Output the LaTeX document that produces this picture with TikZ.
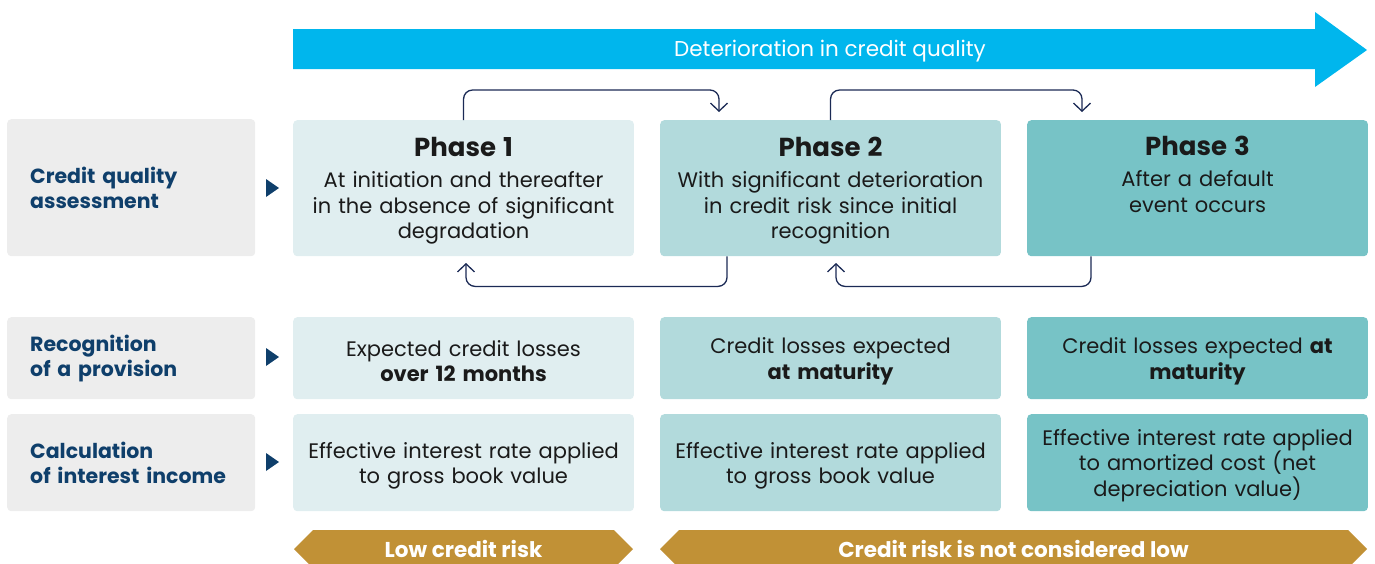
\documentclass[tikz,border=0pt]{standalone}
\usepackage{fontspec}
\setmainfont{Poppins}
\usetikzlibrary{arrows.meta,shapes.symbols}

\definecolor{skyblue}{HTML}{00B6ED}
\definecolor{headgray}{HTML}{EDEDED}
\definecolor{navy}{HTML}{0F3F6B}
\definecolor{loopnavy}{HTML}{1B2A55}
\definecolor{phaseA}{HTML}{E0EEF0}
\definecolor{phaseB}{HTML}{B2DADC}
\definecolor{phaseC}{HTML}{77C3C6}
\definecolor{gold}{HTML}{C19136}
\definecolor{ink}{HTML}{1A1A1A}

\newcommand{\phasetitle}[1]{{\rule{0pt}{24pt}\fontsize{26}{30}\selectfont\bfseries #1}\\[6pt]}

\tikzset{
  rowhead/.style={anchor=north west, fill=headgray, rounded corners=4pt,
    minimum width=248pt, inner xsep=23pt, text width=202pt, align=left,
    text=navy, font=\fontsize{20.5}{25}\selectfont\bfseries},
  phasebox/.style={anchor=north west, rounded corners=4pt, minimum width=340pt,
    text width=334pt, align=center, text=ink,
    font=\fontsize{21}{25.5}\selectfont,
    execute at begin node={\rule{0pt}{22pt}}},
  pointer/.style={fill=navy, draw=none},
  loopline/.style={draw=loopnavy, line width=1.3pt, rounded corners=9pt,
    -{Straight Barb[length=8pt,width=17pt,line width=1.3pt]}},
  riskband/.style={signal, signal to=west and east, signal pointer angle=90,
    fill=gold, text=white, minimum height=38pt, inner sep=0pt,
    font=\fontsize{21.5}{24}\selectfont\bfseries},
}

\begin{document}
\begin{tikzpicture}[x=1pt,y=-1pt]
\useasboundingbox (0,0) rectangle (1375,563);
\clip (0,0) rectangle (1375,563);

% deterioration arrow
\fill[skyblue] (293,29) -- (1315,29) -- (1315,12) -- (1367,50)
  -- (1315,87) -- (1315,69) -- (293,69) -- cycle;
\node[text=white, font=\fontsize{21.5}{24}\selectfont] (deter) at (830,51) {Deterioration in credit quality};

% row headers
\node[rowhead, minimum height=137pt] (hassess) at (7,119) {Credit quality\\assessment};
\node[rowhead, minimum height=82pt] (hprov) at (7,317) {Recognition\\of a provision};
\node[rowhead, minimum height=97pt] (hinc) at (7,414) {Calculation\\of interest income};

\foreach \yy in {188,357,462}
  \fill[pointer] (266,\yy-9) -- (279,\yy) -- (266,\yy+9) -- cycle;

% phases
\node[phasebox, fill=phaseA, minimum height=136pt] (p1) at (293,120)
  {\phasetitle{Phase 1}At initiation and thereafter\\in the absence of significant\\degradation};
\node[phasebox, fill=phaseB, minimum height=136pt] (p2) at (660,120)
  {\phasetitle{Phase 2}With significant deterioration\\in credit risk since initial\\recognition};
\node[phasebox, fill=phaseC, minimum height=136pt] (p3) at (1027,120)
  {\phasetitle{Phase 3}After a default\\event occurs\\\strut};

\node[phasebox, fill=phaseA, minimum height=82pt] (prov1) at (293,317)
  {Expected credit losses\\\textbf{over 12 months}};
\node[phasebox, fill=phaseB, minimum height=82pt] (prov2) at (660,317)
  {Credit losses expected\\\textbf{at maturity}};
\node[phasebox, fill=phaseC, minimum height=82pt] (prov3) at (1027,317)
  {Credit losses expected \textbf{at}\\\textbf{maturity}};

\node[phasebox, fill=phaseA, minimum height=97pt] (inc1) at (293,414)
  {Effective interest rate applied\\to gross book value};
\node[phasebox, fill=phaseB, minimum height=97pt] (inc2) at (660,414)
  {Effective interest rate applied\\to gross book value};
\node[phasebox, fill=phaseC, minimum height=97pt] (inc3) at (1027,414)
  {Effective interest rate applied\\to amortized cost (net\\depreciation value)};

% migration loops
\coordinate (in2) at (719,112);
\coordinate (in3) at (1082,112);
\coordinate (back1) at (466,263);
\coordinate (back2) at (836,263);
\draw[loopline] (p1.north) -- ++(0,-30) -| (in2);
\draw[loopline] (p2.north) -- ++(0,-30) -| (in3);
\draw[loopline] ([xshift=67pt]p2.south west) -- ++(0,30) -| (back1);
\draw[loopline] ([xshift=64pt]p3.south west) -- ++(0,30) -| (back2);

% risk bands
\node[riskband, minimum width=339pt] (lowrisk) at (463.5,549) {Low credit risk};
\node[riskband, minimum width=707pt] (highrisk) at (1013.5,549) {Credit risk is not considered low};
\end{tikzpicture}
\end{document}
